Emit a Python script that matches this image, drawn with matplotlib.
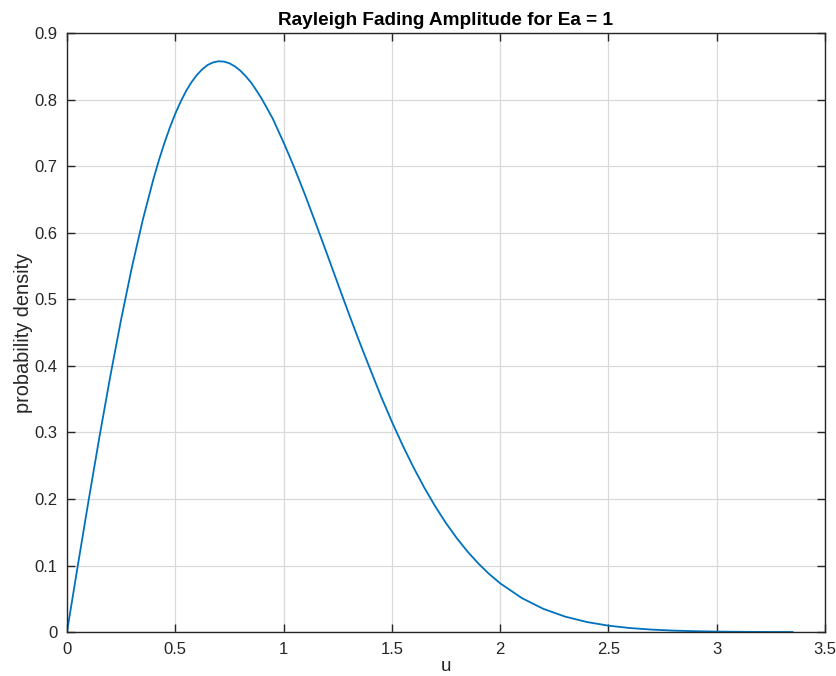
import matplotlib
matplotlib.use("Agg")
import matplotlib.pyplot as plt

# Rayleigh amplitude density samples (Ea = 1)
u = [0.00, 0.05, 0.10, 0.15, 0.20, 0.25, 0.30, 0.35, 0.40, 0.425,
     0.45, 0.475, 0.50, 0.525, 0.55, 0.575, 0.60, 0.625, 0.65, 0.675,
     0.70, 0.725, 0.75, 0.775, 0.80, 0.825, 0.85, 0.875, 0.90, 0.925,
     0.95, 0.975, 1.00, 1.025, 1.05, 1.075, 1.10, 1.125, 1.15, 1.175,
     1.20, 1.25, 1.30, 1.35, 1.40, 1.45, 1.50, 1.55, 1.60, 1.65,
     1.70, 1.75, 1.80, 1.85, 1.90, 1.95, 2.00, 2.10, 2.20, 2.30,
     2.40, 2.50, 2.60, 2.70, 2.80, 2.90, 3.00, 3.10, 3.20, 3.30,
     3.35]
density = [0.0000, 0.0998, 0.1980, 0.2933, 0.3843, 0.4697, 0.5484, 0.6193, 0.6817, 0.7095,
           0.7350, 0.7581, 0.7788, 0.7970, 0.8130, 0.8263, 0.8372, 0.8458, 0.8522, 0.8560,
           0.8577, 0.8572, 0.8547, 0.8501, 0.8437, 0.8354, 0.8258, 0.8138, 0.8009, 0.7863,
           0.7716, 0.7537, 0.7358, 0.7169, 0.6974, 0.6770, 0.6563, 0.6346, 0.6128, 0.5908,
           0.5687, 0.5240, 0.4796, 0.4364, 0.3950, 0.3542, 0.3162, 0.2805, 0.2474, 0.2169,
           0.1890, 0.1637, 0.1410, 0.1207, 0.1028, 0.0870, 0.0733, 0.0511, 0.0348, 0.0232,
           0.0151, 0.0096, 0.0060, 0.0037, 0.0022, 0.0013, 0.0007, 0.0004, 0.0002, 0.0001,
           0.0001]

x_ticks = [0, 0.5, 1, 1.5, 2, 2.5, 3, 3.5]
x_tick_labels = ["0", "0.5", "1", "1.5", "2", "2.5", "3", "3.5"]
y_ticks = [0, 0.1, 0.2, 0.3, 0.4, 0.5, 0.6, 0.7, 0.8, 0.9]
y_tick_labels = ["0", "0.1", "0.2", "0.3", "0.4", "0.5", "0.6", "0.7", "0.8", "0.9"]

plt.rcParams["font.family"] = ["Liberation Sans", "DejaVu Sans"]

fig = plt.figure(figsize=(8.37, 6.76), dpi=100)
ax = fig.add_axes([0.080, 0.065, 0.9057, 0.886])

ax.plot(u, density, color="#0072BD", linewidth=1.3)

ax.set_xlim(0, 3.5)
ax.set_ylim(0, 0.9)
ax.set_xticks(x_ticks)
ax.set_xticklabels(x_tick_labels)
ax.set_yticks(y_ticks)
ax.set_yticklabels(y_tick_labels)

ax.grid(True, color="#d9d9d9", linewidth=0.9)
ax.set_axisbelow(True)

edge = "#262626"
for sp in ax.spines.values():
    sp.set_color(edge)
    sp.set_linewidth(1.0)
ax.tick_params(direction="in", length=6, width=1.0, colors=edge,
               labelsize=12, top=True, right=True, pad=7)
for lab in ax.get_xticklabels() + ax.get_yticklabels():
    lab.set_color("#262626")

ax.set_xlabel("u", fontsize=13.5, color="#262626", labelpad=1)
ax.set_ylabel("probability density", fontsize=14.3, color="#262626", labelpad=1)
ax.set_title("Rayleigh Fading Amplitude for Ea = 1", fontsize=13.7,
             fontweight="bold", color="black", pad=6)

fig.savefig("out.png", dpi=100)
